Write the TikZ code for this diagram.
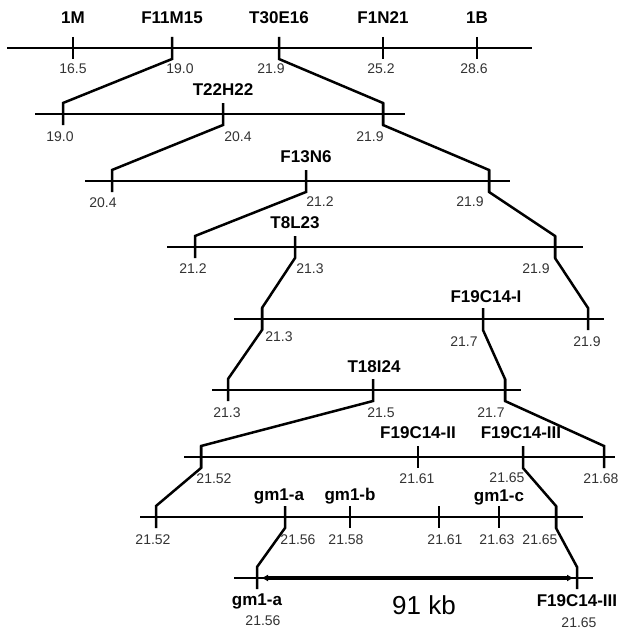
\documentclass[tikz,border=0pt]{standalone}
\usepackage{fontspec}
\setmainfont{Liberation Sans}
\usetikzlibrary{arrows.meta}
% tick of a map line: name, x, y of the line
\newcommand\mtick[3]{%
  \coordinate (#1-t) at (#2,#3-11);
  \coordinate (#1-b) at (#2,#3+11);
  \draw[mapline] (#1-t) -- (#1-b);}
\begin{document}
\begin{tikzpicture}[x=1pt,y=-1pt,
  mapline/.style={line width=2.6pt},
  link/.style={line width=2.5pt,line join=miter},
  clone/.style={font=\fontsize{17}{19}\selectfont\bfseries,inner sep=0pt},
  mapnum/.style={font=\fontsize{14}{16}\selectfont,text=black!80,inner sep=0pt},
  kb/.style={font=\fontsize{26}{29}\selectfont,inner sep=0pt}]
\useasboundingbox (0,0) rectangle (624,634);
% row 1
\draw[mapline] (7,48) -- (532,48);
\foreach \n/\x in {a1/73,a2/172,a3/279,a4/383,a5/477} {\mtick{\n}{\x}{48}}
\node[clone] (c1M) at (73,18) {1M};
\node[clone] (cF11M15) at (172,18) {F11M15};
\node[clone] (cT30E16) at (279,18) {T30E16};
\node[clone] (cF1N21) at (383,18) {F1N21};
\node[clone] (c1B) at (477,18) {1B};
\node[mapnum] (pa1) at (73,69) {16.5};
\node[mapnum] (pa2) at (180,69) {19.0};
\node[mapnum] (pa3) at (271,69) {21.9};
\node[mapnum] (pa4) at (381,69) {25.2};
\node[mapnum] (pa5) at (474,69) {28.6};
% row 2
\draw[mapline] (35,114) -- (405,114);
\foreach \n/\x in {b1/63,b2/223,b3/383} {\mtick{\n}{\x}{114}}
\node[clone] (cT22H22) at (223,90) {T22H22};
\node[mapnum] (pb1) at (60,137) {19.0};
\node[mapnum] (pb2) at (238,137) {20.4};
\node[mapnum] (pb3) at (370,137) {21.9};
\draw[link] (a2-t) -- (a2-b) -- (b1-t) -- (b1-b);
\draw[link] (a3-t) -- (a3-b) -- (b3-t) -- (b3-b);
% row 3
\draw[mapline] (85,181) -- (510,181);
\foreach \n/\x in {c1/112,c2/306,c3/489} {\mtick{\n}{\x}{181}}
\node[clone] (cF13N6) at (306,157) {F13N6};
\node[mapnum] (pc1) at (103,203) {20.4};
\node[mapnum] (pc2) at (320,202) {21.2};
\node[mapnum] (pc3) at (470,202) {21.9};
\draw[link] (b2-t) -- (b2-b) -- (c1-t) -- (c1-b);
\draw[link] (b3-t) -- (b3-b) -- (c3-t) -- (c3-b);
% row 4
\draw[mapline] (167,247) -- (583,247);
\foreach \n/\x in {d1/195,d2/295,d3/555} {\mtick{\n}{\x}{247}}
\node[clone] (cT8L23) at (295,223) {T8L23};
\node[mapnum] (pd1) at (193,269) {21.2};
\node[mapnum] (pd2) at (310,269) {21.3};
\node[mapnum] (pd3) at (536,269) {21.9};
\draw[link] (c2-t) -- (c2-b) -- (d1-t) -- (d1-b);
\draw[link] (c3-t) -- (c3-b) -- (d3-t) -- (d3-b);
% row 5
\draw[mapline] (234,319) -- (604,319);
\foreach \n/\x in {e1/262,e2/483,e3/588} {\mtick{\n}{\x}{319}}
\node[clone] (cF19C14I) at (486,297) {F19C14-I};
\node[mapnum] (pe1) at (279,337) {21.3};
\node[mapnum] (pe2) at (464,342) {21.7};
\node[mapnum] (pe3) at (587,342) {21.9};
\draw[link] (d2-t) -- (d2-b) -- (e1-t) -- (e1-b);
\draw[link] (d3-t) -- (d3-b) -- (e3-t) -- (e3-b);
% row 6
\draw[mapline] (212,390) -- (521,390);
\foreach \n/\x in {f1/228,f2/373,f3/505} {\mtick{\n}{\x}{390}}
\node[clone] (cT18I24) at (374,367) {T18I24};
\node[mapnum] (pf1) at (227,413) {21.3};
\node[mapnum] (pf2) at (381,413) {21.5};
\node[mapnum] (pf3) at (491,413) {21.7};
\draw[link] (e1-t) -- (e1-b) -- (f1-t) -- (f1-b);
\draw[link] (e2-t) -- (e2-b) -- (f3-t) -- (f3-b);
% row 7
\draw[mapline] (184,457) -- (615,457);
\foreach \n/\x in {g1/201,g2/418,g3/523,g4/604} {\mtick{\n}{\x}{457}}
\node[clone] (cF19C14II) at (418,433) {F19C14-II};
\node[clone] (cF19C14III) at (521,433) {F19C14-III};
\node[mapnum] (pg1) at (214,479) {21.52};
\node[mapnum] (pg2) at (417,479) {21.61};
\node[mapnum] (pg3) at (507,478) {21.65};
\node[mapnum] (pg4) at (601,479) {21.68};
\draw[link] (f2-t) -- (f2-b) -- (g1-t) -- (g1-b);
\draw[link] (f3-t) -- (f3-b) -- (g4-t) -- (g4-b);
% row 8
\draw[mapline] (140,517) -- (583,517);
\foreach \n/\x in {h1/156,h2/285,h3/350,h4/439,h5/499,h6/556} {\mtick{\n}{\x}{517}}
\node[clone] (cgma) at (279,496) {gm1-a};
\node[clone] (cgmb) at (350,496) {gm1-b};
\node[clone] (cgmc) at (499,497) {gm1-c};
\node[mapnum] (ph1) at (153,540) {21.52};
\node[mapnum] (ph2) at (298,540) {21.56};
\node[mapnum] (ph3) at (346,540) {21.58};
\node[mapnum] (ph4) at (445,540) {21.61};
\node[mapnum] (ph5) at (497,540) {21.63};
\node[mapnum] (ph6) at (540,540) {21.65};
\draw[link] (g1-t) -- (g1-b) -- (h1-t) -- (h1-b);
\draw[link] (g3-t) -- (g3-b) -- (h6-t) -- (h6-b);
% row 9
\draw[mapline] (234,578) -- (593,578);
\foreach \n/\x in {i1/257,i2/577} {\mtick{\n}{\x}{578}}
\coordinate (kl) at (261,578);
\coordinate (kr) at (574,578);
\draw[line width=4pt,{Latex[length=7pt,width=7pt]}-{Latex[length=7pt,width=7pt]}] (kl) -- (kr);
\draw[link] (h2-t) -- (h2-b) -- (i1-t) -- (i1-b);
\draw[link] (h6-t) -- (h6-b) -- (i2-t) -- (i2-b);
\node[kb] (k91) at (424,605) {91 kb};
\node[clone] (cgmab) at (257,601) {gm1-a};
\node[clone] (cF19C14IIIb) at (577,601) {F19C14-III};
\node[mapnum] (pi1) at (263,621) {21.56};
\node[mapnum] (pi2) at (579,623) {21.65};
\end{tikzpicture}
\end{document}
